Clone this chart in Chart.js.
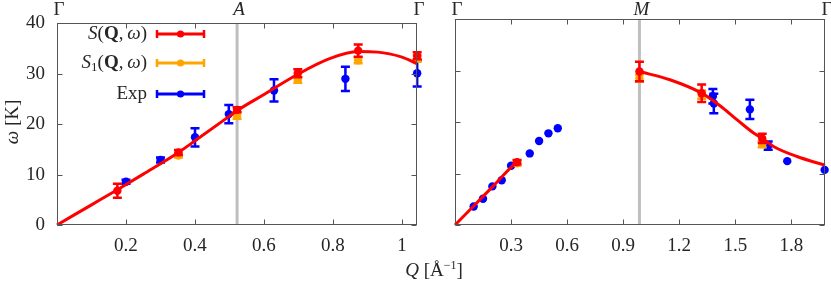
<!DOCTYPE html>
<html><head><meta charset="utf-8">
<script src="https://cdn.jsdelivr.net/npm/chart.js@4.4.1/dist/chart.umd.min.js"></script>
<style>
html,body{margin:0;padding:0;background:#fff;}
#wrap{position:relative;width:831px;height:283px;overflow:hidden;background:#fff;}
#c1{position:absolute;left:0;top:0;}
#c2{position:absolute;left:431px;top:0;}
#xt{position:absolute;left:374px;width:120px;top:259px;line-height:20px;text-align:center;font:19px "Liberation Serif",serif;color:#262626;white-space:nowrap;}
#xt sup{font-size:12px;vertical-align:7px;line-height:0;}
</style></head><body>
<div id="wrap">
<canvas id="c1" width="431" height="283"></canvas>
<canvas id="c2" width="400" height="283"></canvas>
<div id="xt"><i>Q</i> [Å<sup>−1</sup>]</div>
</div>
<script>
// ---------- data ----------
const leftTicksX = [0.2, 0.4, 0.6, 0.8, 1.0];
const rightTicksX = [0.3, 0.6, 0.9, 1.2, 1.5, 1.8];
const ticksY = [0, 10, 20, 30, 40];

// left panel (Gamma - A - Gamma)
const leftCurveQ = [0, 0.1, 0.175, 0.25, 0.352, 0.4, 0.5, 0.522, 0.6, 0.698, 0.79, 0.873, 0.93, 1.0, 1.0435];
const leftCurveW = [0, 4.0, 7.0, 10.1, 14.4, 16.7, 21.6, 22.7, 25.9, 29.9, 33.0, 34.4, 34.3, 33.3, 32.0];
const leftSQ   = [0.175, 0.352, 0.522, 0.698, 0.873, 1.044];
const leftSW   = [6.8, 14.4, 22.85, 30.1, 34.6, 33.6];
const leftSE   = [1.4, 0.5, 0.5, 0.8, 1.2, 0.7];
const leftS1Q  = [0.352, 0.522, 0.698, 0.873, 1.044];
const leftS1W  = [13.8, 21.7, 28.8, 32.7, 33.0];
const leftS1E  = [0.4, 0.6, 0.6, 0.6, 0.6];
const leftExpQ = [0.2, 0.3, 0.4, 0.498, 0.629, 0.836, 1.044];
const leftExpW = [8.6, 12.9, 17.4, 22.0, 26.7, 29.0, 30.1];
const leftExpE = [0.4, 0.5, 1.8, 1.8, 2.2, 2.4, 2.6];

// right panel (Gamma - M - Gamma)
const rightCurve1Q = [0, 0.1, 0.2, 0.3, 0.332];
const rightCurve1W = [0, 3.7, 7.4, 11.2, 12.2];
const rightCurve2Q = [0.987, 1.15, 1.32, 1.42, 1.51, 1.6, 1.644, 1.707, 1.83, 1.98];
const rightCurve2W = [29.8, 28.2, 25.6, 23.1, 20.4, 17.8, 16.8, 15.2, 13.3, 11.6];
const rightSQ   = [0.332, 0.987, 1.32, 1.644];
const rightSW   = [12.2, 29.8, 25.6, 16.8];
const rightSE   = [0.4, 1.9, 1.7, 0.9];
const rightS1Q  = [0.332, 0.987, 1.32, 1.644];
const rightS1W  = [12.0, 28.5, 25.3, 15.7];
const rightS1E  = [0.5, 0.7, 0.8, 0.6];
const rightExpQ = [0.1, 0.15, 0.2, 0.25, 0.3, 0.4, 0.45, 0.5, 0.55, 1.38, 1.385, 1.578, 1.676, 1.778, 1.978];
const rightExpW = [3.6, 5.1, 7.5, 8.7, 11.5, 13.9, 16.3, 17.8, 18.8, 25.0, 23.6, 22.45, 15.4, 12.4, 10.7];
const rightExpE = [0, 0, 0, 0, 0, 0, 0, 0, 0, 1.4, 1.9, 1.85, 0.8, 0, 0];

// ---------- styling ----------
const FF = '"Liberation Serif", "Times New Roman", serif';
const R = s => `${s}px ${FF}`, IT = s => `italic ${s}px ${FF}`, B = s => `bold ${s}px ${FF}`;
const RED = '#ff0000', ORANGE = '#ffa500', BLUE = '#0000ff';
const TXT = '#262626', FRAME = '#555555';

const pts = (q, w) => q.map((v, i) => ({x: v, y: w[i]}));

function drawRich(ctx, segs, x, y, align) {
  let w = 0;
  segs.forEach(s => { ctx.font = s[1]; w += ctx.measureText(s[0]).width; });
  let cx = align === 'right' ? x - w : align === 'center' ? x - w / 2 : x;
  segs.forEach(s => { ctx.font = s[1]; ctx.fillText(s[0], cx, y + (s[2] || 0)); cx += ctx.measureText(s[0]).width; });
}

const panelPlugin = {
  id: 'panel',
  beforeDatasetsDraw(chart, args, o) {
    const {ctx, chartArea: a, scales: {x}} = chart;
    const px = x.getPixelForValue(o.vline);
    ctx.save();
    ctx.strokeStyle = '#bfbfbf'; ctx.lineWidth = 3;
    ctx.beginPath(); ctx.moveTo(px, a.top); ctx.lineTo(px, a.bottom); ctx.stroke();
    ctx.restore();
  },
  beforeDatasetDraw(chart, args) {
    const ds = chart.data.datasets[args.index];
    if (!ds.errs) return;
    const {ctx, scales: {x, y}} = chart;
    ctx.save();
    ctx.strokeStyle = ds.backgroundColor; ctx.lineWidth = 2.5;
    ds.data.forEach((p, i) => {
      const e = ds.errs[i];
      if (!e) return;
      const px = x.getPixelForValue(p.x);
      const y1 = y.getPixelForValue(p.y - e), y2 = y.getPixelForValue(p.y + e);
      ctx.beginPath();
      ctx.moveTo(px, y1); ctx.lineTo(px, y2);
      ctx.moveTo(px - 4.5, y1); ctx.lineTo(px + 4.5, y1);
      ctx.moveTo(px - 4.5, y2); ctx.lineTo(px + 4.5, y2);
      ctx.stroke();
    });
    ctx.restore();
  },
  afterDatasetsDraw(chart, args, o) {
    const {ctx, chartArea: a, scales: {x, y}} = chart;
    const L = Math.round(a.left) + 0.5, Rr = Math.round(a.right) - 0.5;
    const T = Math.round(a.top) + 0.5, Bt = Math.round(a.bottom) - 0.5;
    ctx.save();
    ctx.strokeStyle = FRAME; ctx.lineWidth = 1;
    ctx.strokeRect(L, T, Rr - L, Bt - T);
    ctx.beginPath();
    o.xticks.forEach(v => {
      const px = Math.round(x.getPixelForValue(v)) + 0.5;
      ctx.moveTo(px, Bt); ctx.lineTo(px, Bt - 5);
      ctx.moveTo(px, T); ctx.lineTo(px, T + 5);
    });
    ticksY.forEach(v => {
      const py = Math.round(y.getPixelForValue(v)) + 0.5;
      ctx.moveTo(L, py); ctx.lineTo(L + 5, py);
      ctx.moveTo(Rr, py); ctx.lineTo(Rr - 5, py);
    });
    ctx.stroke();
    ctx.restore();
  },
  afterDraw(chart, args, o) {
    const {ctx, scales: {x}} = chart;
    ctx.save();
    ctx.fillStyle = TXT; ctx.textBaseline = 'alphabetic';
    o.top.forEach(t => {
      drawRich(ctx, [[t[1], t[2] ? IT(19) : R(19)]], x.getPixelForValue(t[0]) + 2, 15, 'center');
    });
    if (o.legend) {
      const rows = [
        {y: 34, c: RED, segs: [['S', IT(19)], ['(', R(19)], ['Q', B(19)], [',\u2009', R(19)], ['ω', IT(19)], [')', R(19)]]},
        {y: 63, c: ORANGE, segs: [['S', IT(19)], ['1', R(13), 3], ['(', R(19)], ['Q', B(19)], [',\u2009', R(19)], ['ω', IT(19)], [')', R(19)]]},
        {y: 94, c: BLUE, segs: [['Exp', R(19)]]}
      ];
      rows.forEach(r => {
        ctx.fillStyle = TXT;
        drawRich(ctx, r.segs, 147, r.y + 5, 'right');
        ctx.strokeStyle = r.c; ctx.fillStyle = r.c; ctx.lineWidth = 3;
        ctx.beginPath();
        ctx.moveTo(157, r.y); ctx.lineTo(204, r.y);
        ctx.stroke();
        ctx.lineWidth = 2.5;
        ctx.beginPath();
        ctx.moveTo(157, r.y - 4); ctx.lineTo(157, r.y + 4);
        ctx.moveTo(204, r.y - 4); ctx.lineTo(204, r.y + 4);
        ctx.stroke();
        ctx.beginPath(); ctx.arc(180.5, r.y, 3.6, 0, Math.PI * 2); ctx.fill();
      });
    }
    if (o.ytitle) {
      ctx.fillStyle = TXT;
      ctx.translate(12, 122); ctx.rotate(-Math.PI / 2);
      drawRich(ctx, [['ω', IT(19)], [' [K]', R(19)]], 0, 6, 'center');
    }
    ctx.restore();
  }
};

function curveDs(q, w) {
  return {data: pts(q, w), showLine: true, borderColor: RED, backgroundColor: RED, borderWidth: 3,
          pointRadius: 0, cubicInterpolationMode: 'monotone', clip: false};
}
function pointDs(q, w, e, c) {
  return {data: pts(q, w), errs: e, showLine: false, backgroundColor: c, borderColor: c,
          pointRadius: 4.2, pointBorderWidth: 0, pointBackgroundColor: c, clip: false};
}

function makeChart(id, cfg) {
  return new Chart(document.getElementById(id), {
    type: 'scatter',
    data: {datasets: cfg.datasets},
    plugins: [panelPlugin],
    options: {
      responsive: false, animation: false, devicePixelRatio: 1,
      layout: {padding: {left: 0, right: cfg.padRight, top: 19, bottom: 0}},
      plugins: {
        legend: {display: false}, tooltip: {enabled: false},
        panel: {vline: cfg.vline, xticks: cfg.xticks, top: cfg.top, legend: cfg.legend, ytitle: cfg.ytitle}
      },
      scales: {
        x: {
          type: 'linear', min: 0, max: cfg.xmax,
          grid: {display: false, drawTicks: false}, border: {display: false},
          afterBuildTicks: s => { s.ticks = cfg.xticks.map(v => ({value: v})); },
          afterFit: s => { s.height = 58; },
          ticks: {padding: 10, color: TXT, font: {family: FF, size: 19},
                  callback: v => (v === 1 ? '1' : v.toFixed(1))}
        },
        y: {
          type: 'linear', min: 0, max: 40,
          grid: {display: false, drawTicks: false}, border: {display: false},
          afterBuildTicks: s => { s.ticks = ticksY.map(v => ({value: v})); },
          afterFit: s => { s.width = cfg.yWidth; },
          ticks: {display: cfg.yLabels, padding: 12, color: TXT, font: {family: FF, size: 19},
                  callback: v => String(v)}
        }
      }
    }
  });
}

makeChart('c1', {
  xmax: 1.0435, padRight: 14, yWidth: 57, yLabels: true, vline: 0.522, xticks: leftTicksX,
  legend: true, ytitle: true,
  top: [[0, 'Γ', false], [0.522, 'A', true], [1.0435, 'Γ', false]],
  datasets: [
    curveDs(leftCurveQ, leftCurveW),
    pointDs(leftSQ, leftSW, leftSE, RED),
    pointDs(leftS1Q, leftS1W, leftS1E, ORANGE),
    pointDs(leftExpQ, leftExpW, leftExpE, BLUE)
  ]
});

makeChart('c2', {
  xmax: 1.98, padRight: 6, yWidth: 24, yLabels: false, vline: 0.987, xticks: rightTicksX,
  legend: false, ytitle: false,
  top: [[0, 'Γ', false], [0.987, 'M', true], [1.98, 'Γ', false]],
  datasets: [
    curveDs(rightCurve1Q, rightCurve1W),
    curveDs(rightCurve2Q, rightCurve2W),
    pointDs(rightSQ, rightSW, rightSE, RED),
    pointDs(rightS1Q, rightS1W, rightS1E, ORANGE),
    pointDs(rightExpQ, rightExpW, rightExpE, BLUE)
  ]
});
</script>
</body></html>
